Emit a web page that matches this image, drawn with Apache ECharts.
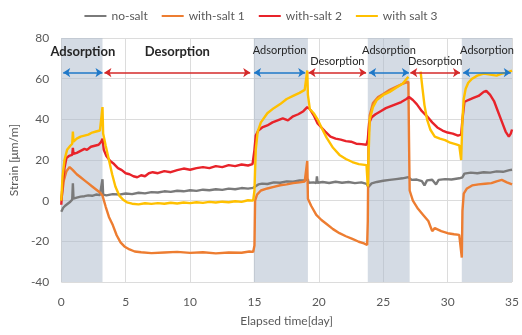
<!DOCTYPE html>
<html>
<head>
<meta charset="utf-8">
<script src="https://cdn.jsdelivr.net/npm/echarts@6/dist/echarts.min.js"></script>
<style>
  html, body { margin: 0; padding: 0; background: #fff; }
  #chart { width: 522px; height: 335px; }
</style>
</head>
<body>
<div id="chart"></div>
<script>
// strain readings [day, μm/m]
var noSalt = [[0,-5.5],[0.15,-3.5],[0.3,-2.5],[0.5,-1.5],[0.7,-0.5],[0.85,0.5],[0.9,8.5],[0.95,1],[1.2,1.5],[1.5,2],[1.8,2.2],[2.1,2.6],[2.4,2.4],[2.7,3],[3.0,2.8],[3.15,3],[3.2,10.5],[3.25,3],[3.5,2.6],[4,3.2],[4.5,3],[5,3.5],[5.5,3.2],[6,3.9],[6.5,3.6],[7,4.2],[7.5,4],[8,4.6],[8.5,4.3],[9,4.9],[9.5,4.6],[10,5.1],[10.5,4.8],[11,5.4],[11.5,5.1],[12,5.6],[12.5,5.3],[13,5.9],[13.5,5.6],[14,6.2],[14.5,5.9],[14.9,6.3],[15.05,6.8],[15.3,8],[15.6,8.4],[16,8.2],[16.5,9],[17,8.8],[17.5,9.5],[18,9.3],[18.5,9.9],[18.9,10],[19.15,10.5],[19.2,8.8],[19.6,9],[19.8,8.6],[19.85,12],[19.9,8.8],[20.3,9.2],[20.8,8.7],[21.3,9.3],[21.8,8.8],[22.3,9.2],[22.8,8.6],[23.3,9],[23.7,8.3],[23.85,6.8],[24.1,8.5],[24.5,9.2],[25,9.8],[25.5,10.2],[26,10.6],[26.5,11],[26.95,11.6],[27.2,10.2],[27.6,10.4],[28,9.6],[28.2,7.5],[28.4,10],[28.8,10.3],[29.1,8],[29.3,10.2],[29.8,10.6],[30.3,10.4],[30.9,11],[31.15,11.5],[31.3,13.3],[31.8,13.8],[32.3,13.5],[32.8,14],[33.3,13.8],[33.8,14.4],[34.3,14.2],[34.8,15],[35,15.2]];

var withSalt1 = [[0,0],[0.2,10],[0.4,14.5],[0.65,16.5],[0.9,15],[1.2,13],[1.5,11.5],[1.8,10],[2.1,8.5],[2.4,7],[2.7,5.5],[3.0,4],[3.2,2.5],[3.45,-3],[3.7,-8],[4.0,-12],[4.3,-17],[4.6,-20.5],[4.9,-22.5],[5.3,-24],[5.7,-25],[6.2,-25.4],[7,-25.8],[8,-25.5],[9,-25.2],[10,-25.7],[11,-25.4],[12,-25.9],[13,-25.5],[14,-25.6],[14.6,-25],[14.9,-25.2],[15.0,-22],[15.05,0],[15.2,3],[15.5,5],[16,6],[16.5,6.8],[17,7.6],[17.5,8],[18,8.6],[18.5,9],[18.9,9.4],[19.05,9.6],[19.1,19.5],[19.15,1],[19.4,-2.5],[19.8,-7],[20.2,-9.5],[20.6,-11.5],[21.1,-14],[21.6,-16],[22.1,-17.5],[22.6,-18.8],[23.1,-20.2],[23.5,-21],[23.75,-21.8],[23.8,-10],[23.85,30],[23.95,42],[24.2,48],[24.6,51],[25,52.5],[25.5,54.5],[26,56],[26.5,57.5],[26.95,58.5],[27.0,30],[27.05,5],[27.3,0],[27.7,-4],[28.1,-7],[28.5,-10],[28.8,-15],[29,-13.5],[29.5,-15],[30,-16],[30.5,-16.5],[30.9,-16.8],[31.05,-17],[31.1,-28],[31.15,-5],[31.25,3.5],[31.5,6],[31.9,7.5],[32.4,8],[32.9,8.3],[33.4,8.6],[33.8,9.5],[34.2,10.2],[34.6,9],[35,8]];

var withSalt2 = [[0,-2],[0.1,8],[0.25,16],[0.4,21],[0.6,22],[0.85,22.5],[0.9,26],[0.95,23],[1.2,23.5],[1.5,24.5],[1.8,25.5],[2.0,25],[2.3,26.5],[2.6,27],[2.9,27.5],[3.1,29],[3.2,30.5],[3.3,25],[3.5,22],[3.8,19.5],[4.1,18],[4.4,16],[4.7,15],[5,13.5],[5.3,13],[5.6,12],[5.9,11.5],[6.2,12.5],[6.5,12],[6.8,13.5],[7.1,14],[7.5,13.5],[8,14.5],[8.5,14],[9,15],[9.5,15.8],[10,15.2],[10.5,16],[11,16.5],[11.5,16],[12,17],[12.5,16.5],[13,17.5],[13.5,17],[14,17.8],[14.5,17.3],[14.85,18],[15.0,25],[15.1,32],[15.3,34.5],[15.6,36],[16,37],[16.4,38.5],[16.8,39.5],[17.2,40.5],[17.6,39.5],[18,41.5],[18.4,42.5],[18.8,44],[19.1,46],[19.3,45],[19.6,42],[19.9,38],[20.2,36],[20.5,34],[20.9,31.5],[21.3,30.5],[21.7,30],[22.1,29.3],[22.5,29],[22.9,28],[23.3,27.8],[23.7,27.5],[23.8,30],[23.9,38],[24.1,41],[24.4,42.5],[24.8,44],[25.2,45.5],[25.6,46.5],[26,47.5],[26.4,48.5],[26.8,50],[27.0,51],[27.3,49.5],[27.6,47.5],[28,44],[28.4,41.5],[28.8,38.5],[29.2,36],[29.6,34.5],[30,33.5],[30.4,33],[30.8,32],[31.05,32.5],[31.15,40],[31.3,48.5],[31.6,49.5],[32,50.5],[32.4,51.5],[32.8,53.5],[33.0,54],[33.3,52],[33.6,49],[33.9,44],[34.2,39],[34.5,34],[34.75,31.5],[34.9,33],[35,35]];

var withSalt3 = [[0,0],[0.1,12],[0.25,20],[0.45,25],[0.7,27],[0.85,28],[0.9,34],[0.95,29],[1.2,30.5],[1.5,31.5],[1.8,32],[2.1,32.5],[2.4,33.5],[2.7,34],[3.0,34.5],[3.15,35],[3.2,46],[3.25,33],[3.45,27],[3.7,20],[3.95,13],[4.2,7],[4.5,2.5],[4.8,0.5],[5.1,-0.8],[5.5,-1.5],[6,-1.8],[6.5,-1.3],[7,-1.6],[7.5,-1.2],[8,-1.5],[8.5,-1],[9,-1.4],[9.5,-0.9],[10,-1.2],[10.5,-0.8],[11,-1.1],[11.5,-0.6],[12,-0.9],[12.5,-0.5],[13,-0.8],[13.5,-0.3],[14,-0.6],[14.5,0.2],[14.9,0],[15.0,5],[15.1,25],[15.25,34],[15.5,38.5],[16,43],[16.5,45.5],[17,47.5],[17.5,50],[18,51.5],[18.5,53],[18.9,54.5],[19.05,55],[19.1,64],[19.15,52],[19.3,45],[19.6,43],[19.9,40],[20.2,36],[20.6,31],[21.1,26],[21.6,22.5],[22.1,20.5],[22.6,19],[23.1,18],[23.7,17.5],[23.8,7],[23.85,20],[23.95,40],[24.2,46],[24.5,49.5],[25,52],[25.5,53.5],[26,55.5],[26.5,57.5],[26.95,61],[27.4,null],[27.9,63.5],[28.05,55],[28.2,47],[28.4,40],[28.65,35],[29,31.5],[29.4,30.5],[29.8,29.8],[30.2,28.5],[30.6,27.8],[30.9,27.2],[31.05,20],[31.15,40],[31.25,50],[31.4,55],[31.6,58],[31.9,60],[32.3,61.5],[32.8,62.5],[33.3,62],[33.8,61.5],[34.2,62.5],[34.6,63],[35,64]];

// test phases [start day, end day]
var adsorption = [[0, 3.2], [14.95, 19.15], [23.8, 27.05], [31.1, 35]];
var phaseArrows = [
  { name: 'Adsorption', from: 0.15, to: 3.2, kind: 'ad', big: true },
  { name: 'Desorption', from: 3.35, to: 14.67, kind: 'de', big: true },
  { name: 'Adsorption', from: 14.97, to: 18.94, kind: 'ad' },
  { name: 'Desorption', from: 19.2, to: 23.67, kind: 'de' },
  { name: 'Adsorption', from: 23.9, to: 26.99, kind: 'ad' },
  { name: 'Desorption', from: 27.1, to: 30.96, kind: 'de' },
  { name: 'Adsorption', from: 31.2, to: 34.9, kind: 'ad' }
];
var arrowLevel = 63;

var font = 'Lato, "Open Sans", sans-serif';

var chart = echarts.init(document.getElementById('chart'));

var arrowData = phaseArrows.map(function (p) {
  var color = p.kind === 'ad' ? '#1f78c8' : '#d42a2a';
  var dist = p.big ? 14 : (p.kind === 'ad' ? 17 : 6);
  return [
    {
      coord: [p.from, arrowLevel],
      lineStyle: { color: color, width: 1.5, type: 'solid' },
      label: {
        show: true,
        formatter: p.name,
        position: 'insideMiddleTop',
        distance: dist,
        color: '#262626',
        fontFamily: font,
        fontSize: p.big ? 13 : 11,
        fontWeight: p.big ? 'bold' : 'normal'
      }
    },
    { coord: [p.to, arrowLevel] }
  ];
});

var bandData = adsorption.map(function (a) {
  return [{ xAxis: a[0] }, { xAxis: a[1] }];
});

var option = {
  animation: false,
  color: ['#7a7a7a', '#ed7d31', '#e8232a', '#ffc000'],
  textStyle: { fontFamily: font },
  legend: {
    top: 5,
    left: 'center',
    itemWidth: 22,
    itemHeight: 2,
    itemGap: 14,
    icon: 'rect',
    textStyle: { color: '#595959', fontSize: 12, fontFamily: font },
    data: ['no-salt', 'with-salt 1', 'with-salt 2', 'with salt 3']
  },
  grid: { left: 58, right: 7, top: 38, bottom: 53 },
  xAxis: {
    type: 'value',
    min: 0,
    max: 35,
    interval: 5,
    name: 'Elapsed time[day]',
    nameLocation: 'middle',
    nameGap: 33,
    nameTextStyle: { color: '#595959', fontSize: 12 },
    axisLine: { show: false },
    axisTick: { show: false },
    axisLabel: { color: '#595959', fontSize: 12, margin: 14 },
    splitLine: { show: true, lineStyle: { color: '#dcdcdc' } }
  },
  yAxis: {
    type: 'value',
    min: -40,
    max: 80,
    interval: 20,
    name: 'Strain [μm/m]',
    nameLocation: 'middle',
    nameGap: 34,
    nameTextStyle: { color: '#595959', fontSize: 12 },
    axisLine: { show: false },
    axisTick: { show: false },
    axisLabel: { color: '#595959', fontSize: 12, margin: 12 },
    splitLine: { lineStyle: { color: '#dcdcdc' } }
  },
  series: [
    {
      name: 'no-salt',
      type: 'line',
      data: noSalt,
      showSymbol: false,
      lineStyle: { width: 2.4 },
      markArea: {
        silent: true,
        itemStyle: { color: 'rgba(170,183,201,0.5)' },
        data: bandData
      },
      markLine: {
        silent: true,
        symbol: ['arrow', 'arrow'],
        symbolSize: [7, 7],
        data: arrowData
      }
    },
    { name: 'with-salt 1', type: 'line', data: withSalt1, showSymbol: false, lineStyle: { width: 2.4 } },
    { name: 'with-salt 2', type: 'line', data: withSalt2, showSymbol: false, lineStyle: { width: 2.4 } },
    { name: 'with salt 3', type: 'line', data: withSalt3, showSymbol: false, lineStyle: { width: 2.4 } }
  ]
};

chart.setOption(option);
</script>
</body>
</html>
